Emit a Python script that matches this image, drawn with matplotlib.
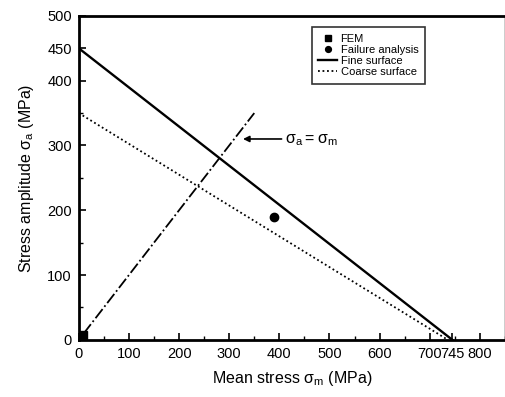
import matplotlib
matplotlib.use("Agg")
import matplotlib.pyplot as plt
from matplotlib.ticker import MultipleLocator

plt.rcParams["font.family"] = ["Liberation Sans", "DejaVu Sans"]
plt.rcParams["mathtext.default"] = "regular"

# Goodman-type lines (mean stress, stress amplitude) in MPa
fine_x = [0, 745]
fine_y = [450, 0]
coarse_x = [0, 736]
coarse_y = [350, 0]
equal_x = [10, 350]
equal_y = [10, 350]

fem_x = [8]
fem_y = [8]
failure_x = [390]
failure_y = [190]

xticks = [0, 100, 200, 300, 400, 500, 600, 700, 745, 800]
xticklabels = ["0", "100", "200", "300", "400", "500", "600", "700", "745", "800"]
yticks = [0, 100, 200, 300, 400, 450, 500]

fig = plt.figure(figsize=(5.05, 3.97), dpi=100)
ax = fig.add_axes([0.156, 0.144, 0.844, 0.816])

ax.plot(fine_x, fine_y, "k-", lw=1.7, label="Fine surface")
ax.plot(coarse_x, coarse_y, color="k", ls=(0, (1, 1.5)), lw=1.3, label="Coarse surface")
ax.plot(equal_x, equal_y, "k-.", lw=1.3)
ax.plot(fem_x, fem_y, "ks", ms=6, ls="none", label="FEM")
ax.plot(failure_x, failure_y, "ko", ms=6, ls="none", label="Failure analysis")

ax.annotate("", xy=(322, 310), xytext=(410, 310),
            arrowprops=dict(arrowstyle="-|>", color="k", lw=1.2, mutation_scale=9))
ax.text(412, 308, r"$\sigma_a = \sigma_m$", fontsize=11.5, va="center", ha="left")

ax.set_xlim(0, 850)
ax.set_ylim(0, 500)
ax.set_xticks(xticks)
ax.set_xticklabels(xticklabels)
ax.set_yticks(yticks)
ax.xaxis.set_minor_locator(MultipleLocator(50))
ax.yaxis.set_minor_locator(MultipleLocator(50))
ax.tick_params(direction="in", length=5, width=1.2, labelsize=10.5, pad=5)
ax.tick_params(which="minor", direction="in", length=3, width=1)

ax.spines["left"].set_linewidth(2)
ax.spines["bottom"].set_linewidth(2)
ax.spines["top"].set_linewidth(2)
ax.spines["right"].set_linewidth(1)

ax.set_xlabel(r"Mean stress $\sigma_m$ (MPa)", fontsize=11.5, labelpad=6)
ax.set_ylabel(r"Stress amplitude $\sigma_a$ (MPa)", fontsize=11.5, labelpad=8)

handles, labels = ax.get_legend_handles_labels()
order = [2, 3, 0, 1]
leg = ax.legend([handles[i] for i in order], [labels[i] for i in order],
                loc="upper right", bbox_to_anchor=(0.82, 0.975), fontsize=8,
                frameon=True, fancybox=False, edgecolor="k", markerscale=0.7,
                handlelength=1.7, handletextpad=0.3, labelspacing=0.1,
                borderpad=0.6, borderaxespad=0.3)
leg.get_frame().set_linewidth(1.2)

fig.savefig("out.png", dpi=100)
